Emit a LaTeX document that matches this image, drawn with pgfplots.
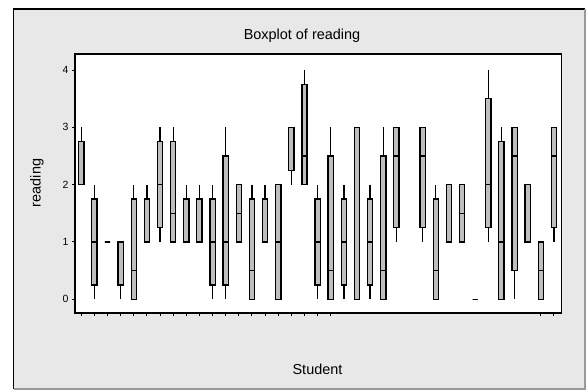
\documentclass[border=0pt]{standalone}
\usepackage{fontspec}
\setmainfont{Liberation Sans}
\usepackage{pgfplots}
\usepgfplotslibrary{statistics}
\pgfplotsset{compat=1.18}
\definecolor{bg}{RGB}{232,232,232}
\definecolor{boxfill}{RGB}{190,190,190}
\pgfplotsset{mybox/.style={draw=black, fill=boxfill, line width=1.3bp, solid}}
\begin{document}
\begin{tikzpicture}
\path[use as bounding box] (0bp,0bp) rectangle (586bp,390bp);
\fill[white] (0bp,0bp) rectangle (586bp,390bp);
\fill[bg] (13.5bp,1bp) rectangle (585bp,381bp);
\draw[black, line width=1.5bp] (13.5bp,1bp) -- (13.5bp,381bp) -- (585bp,381bp);
\draw[black!40, line width=1.5bp] (585bp,381bp) -- (585bp,1bp) -- (13.5bp,1bp);
\begin{axis}[
  at={(75bp,77bp)}, anchor=south west, scale only axis,
  width=486.7bp, height=259bp,
  xmin=-0.48, xmax=36.59, ymin=-0.24, ymax=4.28,
  axis background/.style={fill=white},
  axis line style={line width=1.2bp},
  xtick={0,1,2,3,4,5,6,7,8,9,10,11,12,13,14,15,16,17,18,19,35,36},
  xticklabels={},
  ytick={0,1,2,3,4},
  tick align=outside, major tick length=3bp,
  tick style={black, line width=1bp},
  xtick pos=lower, ytick pos=left,
  /pgf/number format/assume math mode=true,
  yticklabel style={font=\fontsize{10.5}{12}\selectfont},
  boxplot/draw direction=y,
  boxplot/box extend=0.4, boxplot/whisker extend=0,
]
\addplot[mybox, boxplot prepared={draw position=0, lower whisker=2, lower quartile=2, median=2, upper quartile=2.75, upper whisker=3}] coordinates {};
\addplot[mybox, boxplot prepared={draw position=1, lower whisker=0, lower quartile=0.25, median=1, upper quartile=1.75, upper whisker=2}] coordinates {};
\addplot[mybox, boxplot prepared={draw position=2, lower whisker=1, lower quartile=1, median=1, upper quartile=1, upper whisker=1}] coordinates {};
\addplot[mybox, boxplot prepared={draw position=3, lower whisker=0, lower quartile=0.25, median=1, upper quartile=1, upper whisker=1}] coordinates {};
\addplot[mybox, boxplot prepared={draw position=4, lower whisker=0, lower quartile=0, median=0.5, upper quartile=1.75, upper whisker=2}] coordinates {};
\addplot[mybox, boxplot prepared={draw position=5, lower whisker=1, lower quartile=1, median=1, upper quartile=1.75, upper whisker=2}] coordinates {};
\addplot[mybox, boxplot prepared={draw position=6, lower whisker=1, lower quartile=1.25, median=2, upper quartile=2.75, upper whisker=3}] coordinates {};
\addplot[mybox, boxplot prepared={draw position=7, lower whisker=1, lower quartile=1, median=1.5, upper quartile=2.75, upper whisker=3}] coordinates {};
\addplot[mybox, boxplot prepared={draw position=8, lower whisker=1, lower quartile=1, median=1, upper quartile=1.75, upper whisker=2}] coordinates {};
\addplot[mybox, boxplot prepared={draw position=9, lower whisker=1, lower quartile=1, median=1, upper quartile=1.75, upper whisker=2}] coordinates {};
\addplot[mybox, boxplot prepared={draw position=10, lower whisker=0, lower quartile=0.25, median=1, upper quartile=1.75, upper whisker=2}] coordinates {};
\addplot[mybox, boxplot prepared={draw position=11, lower whisker=0, lower quartile=0.25, median=1, upper quartile=2.5, upper whisker=3}] coordinates {};
\addplot[mybox, boxplot prepared={draw position=12, lower whisker=1, lower quartile=1, median=1.5, upper quartile=2, upper whisker=2}] coordinates {};
\addplot[mybox, boxplot prepared={draw position=13, lower whisker=0, lower quartile=0, median=0.5, upper quartile=1.75, upper whisker=2}] coordinates {};
\addplot[mybox, boxplot prepared={draw position=14, lower whisker=1, lower quartile=1, median=1, upper quartile=1.75, upper whisker=2}] coordinates {};
\addplot[mybox, boxplot prepared={draw position=15, lower whisker=0, lower quartile=0, median=1, upper quartile=2, upper whisker=2}] coordinates {};
\addplot[mybox, boxplot prepared={draw position=16, lower whisker=2, lower quartile=2.25, median=3, upper quartile=3, upper whisker=3}] coordinates {};
\addplot[mybox, boxplot prepared={draw position=17, lower whisker=2, lower quartile=2, median=2.5, upper quartile=3.75, upper whisker=4}] coordinates {};
\addplot[mybox, boxplot prepared={draw position=18, lower whisker=0, lower quartile=0.25, median=1, upper quartile=1.75, upper whisker=2}] coordinates {};
\addplot[mybox, boxplot prepared={draw position=19, lower whisker=0, lower quartile=0, median=0.5, upper quartile=2.5, upper whisker=3}] coordinates {};
\addplot[mybox, boxplot prepared={draw position=20, lower whisker=0, lower quartile=0.25, median=1, upper quartile=1.75, upper whisker=2}] coordinates {};
\addplot[mybox, boxplot prepared={draw position=21, lower whisker=0, lower quartile=0, median=0, upper quartile=3, upper whisker=3}] coordinates {};
\addplot[mybox, boxplot prepared={draw position=22, lower whisker=0, lower quartile=0.25, median=1, upper quartile=1.75, upper whisker=2}] coordinates {};
\addplot[mybox, boxplot prepared={draw position=23, lower whisker=0, lower quartile=0, median=0.5, upper quartile=2.5, upper whisker=3}] coordinates {};
\addplot[mybox, boxplot prepared={draw position=24, lower whisker=1, lower quartile=1.25, median=2.5, upper quartile=3, upper whisker=3}] coordinates {};
\addplot[mybox, boxplot prepared={draw position=26, lower whisker=1, lower quartile=1.25, median=2.5, upper quartile=3, upper whisker=3}] coordinates {};
\addplot[mybox, boxplot prepared={draw position=27, lower whisker=0, lower quartile=0, median=0.5, upper quartile=1.75, upper whisker=2}] coordinates {};
\addplot[mybox, boxplot prepared={draw position=28, lower whisker=1, lower quartile=1, median=1, upper quartile=2, upper whisker=2}] coordinates {};
\addplot[mybox, boxplot prepared={draw position=29, lower whisker=1, lower quartile=1, median=1.5, upper quartile=2, upper whisker=2}] coordinates {};
\addplot[mybox, boxplot prepared={draw position=30, lower whisker=0, lower quartile=0, median=0, upper quartile=0, upper whisker=0}] coordinates {};
\addplot[mybox, boxplot prepared={draw position=31, lower whisker=1, lower quartile=1.25, median=2, upper quartile=3.5, upper whisker=4}] coordinates {};
\addplot[mybox, boxplot prepared={draw position=32, lower whisker=0, lower quartile=0, median=1, upper quartile=2.75, upper whisker=3}] coordinates {};
\addplot[mybox, boxplot prepared={draw position=33, lower whisker=0, lower quartile=0.5, median=2.5, upper quartile=3, upper whisker=3}] coordinates {};
\addplot[mybox, boxplot prepared={draw position=34, lower whisker=1, lower quartile=1, median=1, upper quartile=2, upper whisker=2}] coordinates {};
\addplot[mybox, boxplot prepared={draw position=35, lower whisker=0, lower quartile=0, median=0.5, upper quartile=1, upper whisker=1}] coordinates {};
\addplot[mybox, boxplot prepared={draw position=36, lower whisker=1, lower quartile=1.25, median=2.5, upper quartile=3, upper whisker=3}] coordinates {};
\end{axis}
\node[font=\fontsize{14.5}{17}\selectfont] at (302bp,354bp) {Boxplot of reading};
\node[font=\fontsize{14.5}{17}\selectfont] at (317.5bp,21bp) {Student};
\node[font=\fontsize{14.5}{17}\selectfont, rotate=90] at (37bp,207bp) {reading};
\end{tikzpicture}
\end{document}
